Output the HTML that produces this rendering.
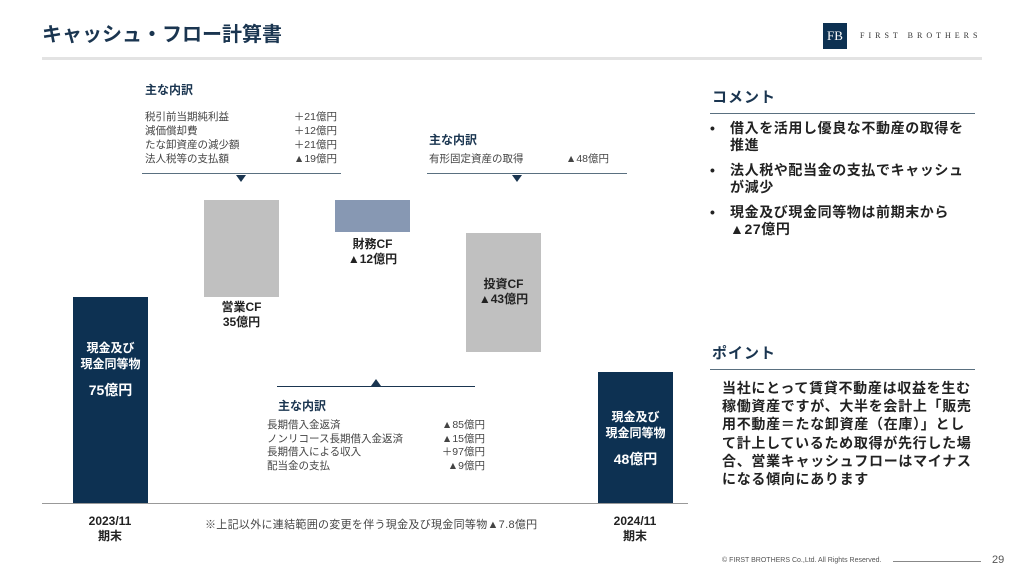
<!DOCTYPE html>
<html><head><meta charset="utf-8"><style>
body{margin:0;width:1024px;height:576px;position:relative;background:#fff;font-family:"Liberation Sans","Noto Sans CJK JP",sans-serif;color:#222;overflow:hidden}
.a{position:absolute}
.bar{position:absolute}
.nv{background:#0d3152;color:#fff;text-align:center;font-weight:bold}
.lbl{position:absolute;text-align:center;font-weight:bold;font-size:12px;line-height:15px;color:#222}
.h{font-weight:bold;font-size:12px;color:#1a3550}
.t{font-size:10.5px;line-height:14px;color:#444}
.row{display:flex;justify-content:space-between}
.tri{position:absolute;width:0;height:0;border-left:5px solid transparent;border-right:5px solid transparent}
</style></head><body>
<div class="a" style="left:42px;top:18px;font-size:20px;font-weight:bold;color:#1a3550;letter-spacing:0px">キャッシュ・フロー計算書</div>
<div class="a" style="left:823px;top:23px;width:24px;height:26px;background:#0d3152;color:#fff;font-size:13px;font-family:'Liberation Serif',serif;text-align:center;line-height:26px">FB</div>
<div class="a" style="left:860px;top:31px;font-size:8px;letter-spacing:4px;font-family:'Liberation Serif',serif;color:#333">FIRST BROTHERS</div>
<div class="a" style="left:42px;top:57px;width:940px;height:3px;background:#e3e3e3"></div>

<div class="a h" style="left:145px;top:81px">主な内訳</div>
<div class="a t" style="left:145px;top:110px;width:192px">
<div class="row"><span>税引前当期純利益</span><span>＋21億円</span></div>
<div class="row"><span>減価償却費</span><span>＋12億円</span></div>
<div class="row"><span>たな卸資産の減少額</span><span>＋21億円</span></div>
<div class="row"><span>法人税等の支払額</span><span>▲19億円</span></div></div>
<div class="a" style="left:142px;top:173px;width:199px;height:1px;background:#5a7080"></div>
<div class="tri" style="left:236px;top:175px;border-top:7px solid #1a3550"></div>

<div class="a h" style="left:429px;top:131px">主な内訳</div>
<div class="a t" style="left:429px;top:152px;width:180px"><div class="row"><span>有形固定資産の取得</span><span>▲48億円</span></div></div>
<div class="a" style="left:427px;top:173px;width:200px;height:1px;background:#5a7080"></div>
<div class="tri" style="left:512px;top:175px;border-top:7px solid #1a3550"></div>

<div class="bar nv" style="left:73px;top:297px;width:75px;height:206px"><div style="margin-top:43px;font-size:12px;line-height:16px">現金及び<br>現金同等物</div><div style="font-size:14px;margin-top:8px">75億円</div></div>
<div class="bar" style="left:204px;top:200px;width:75px;height:97px;background:#c0c0c0"></div>
<div class="lbl" style="left:204px;top:300px;width:75px">営業CF<br>35億円</div>
<div class="bar" style="left:335px;top:200px;width:75px;height:32px;background:#8798b3"></div>
<div class="lbl" style="left:330px;top:237px;width:85px">財務CF<br>▲12億円</div>
<div class="bar" style="left:466px;top:233px;width:75px;height:119px;background:#c0c0c0"></div>
<div class="lbl" style="left:461px;top:277px;width:85px">投資CF<br>▲43億円</div>
<div class="bar nv" style="left:598px;top:372px;width:75px;height:131px"><div style="margin-top:37px;font-size:12px;line-height:16px">現金及び<br>現金同等物</div><div style="font-size:14px;margin-top:8px">48億円</div></div>

<div class="a" style="left:277px;top:386px;width:198px;height:1px;background:#1a3550"></div>
<div class="tri" style="left:371px;top:379px;border-bottom:7px solid #1a3550"></div>
<div class="a h" style="left:278px;top:397px">主な内訳</div>
<div class="a t" style="left:267px;top:419px;width:218px;line-height:13.5px">
<div class="row"><span>長期借入金返済</span><span>▲85億円</span></div>
<div class="row"><span>ノンリコース長期借入金返済</span><span>▲15億円</span></div>
<div class="row"><span>長期借入による収入</span><span>＋97億円</span></div>
<div class="row"><span>配当金の支払</span><span>▲9億円</span></div></div>

<div class="a" style="left:42px;top:503px;width:646px;height:1px;background:#999"></div>
<div class="lbl" style="left:70px;top:514px;width:80px">2023/11<br>期末</div>
<div class="lbl" style="left:595px;top:514px;width:80px">2024/11<br>期末</div>
<div class="a t" style="left:205px;top:518px;font-size:11px;letter-spacing:0.3px">※上記以外に連結範囲の変更を伴う現金及び現金同等物▲7.8億円</div>

<div class="a" style="left:712px;top:86px;font-size:15px;font-weight:bold;color:#1a3550;letter-spacing:1px">コメント</div>
<div class="a" style="left:710px;top:113px;width:265px;height:1px;background:#5a7080"></div>
<div class="a" style="left:710px;top:120px;width:265px;font-size:14px;font-weight:bold;line-height:17px;letter-spacing:0.6px">
<div style="display:flex;margin-bottom:8px"><span style="width:20px;flex:none">•</span><span>借入を活用し優良な不動産の取得を推進</span></div>
<div style="display:flex;margin-bottom:8px"><span style="width:20px;flex:none">•</span><span>法人税や配当金の支払でキャッシュが減少</span></div>
<div style="display:flex"><span style="width:20px;flex:none">•</span><span>現金及び現金同等物は前期末から▲27億円</span></div></div>
<div class="a" style="left:712px;top:342px;font-size:15px;font-weight:bold;color:#1a3550;letter-spacing:1px">ポイント</div>
<div class="a" style="left:710px;top:369px;width:265px;height:1px;background:#5a7080"></div>
<div class="a" style="left:722px;top:379px;width:256px;font-size:14px;font-weight:bold;line-height:18.2px;letter-spacing:0.7px">当社にとって賃貸不動産は収益を生む稼働資産ですが、大半を会計上「販売用不動産＝たな卸資産（在庫）」として計上しているため取得が先行した場合、営業キャッシュフローはマイナスになる傾向にあります</div>

<div class="a" style="left:722px;top:557px;font-size:7px;color:#555">© FIRST BROTHERS Co.,Ltd. All Rights Reserved.</div>
<div class="a" style="left:893px;top:561px;width:88px;height:1px;background:#888"></div>
<div class="a" style="left:992px;top:554px;font-size:11px;color:#555">29</div>
</body></html>
